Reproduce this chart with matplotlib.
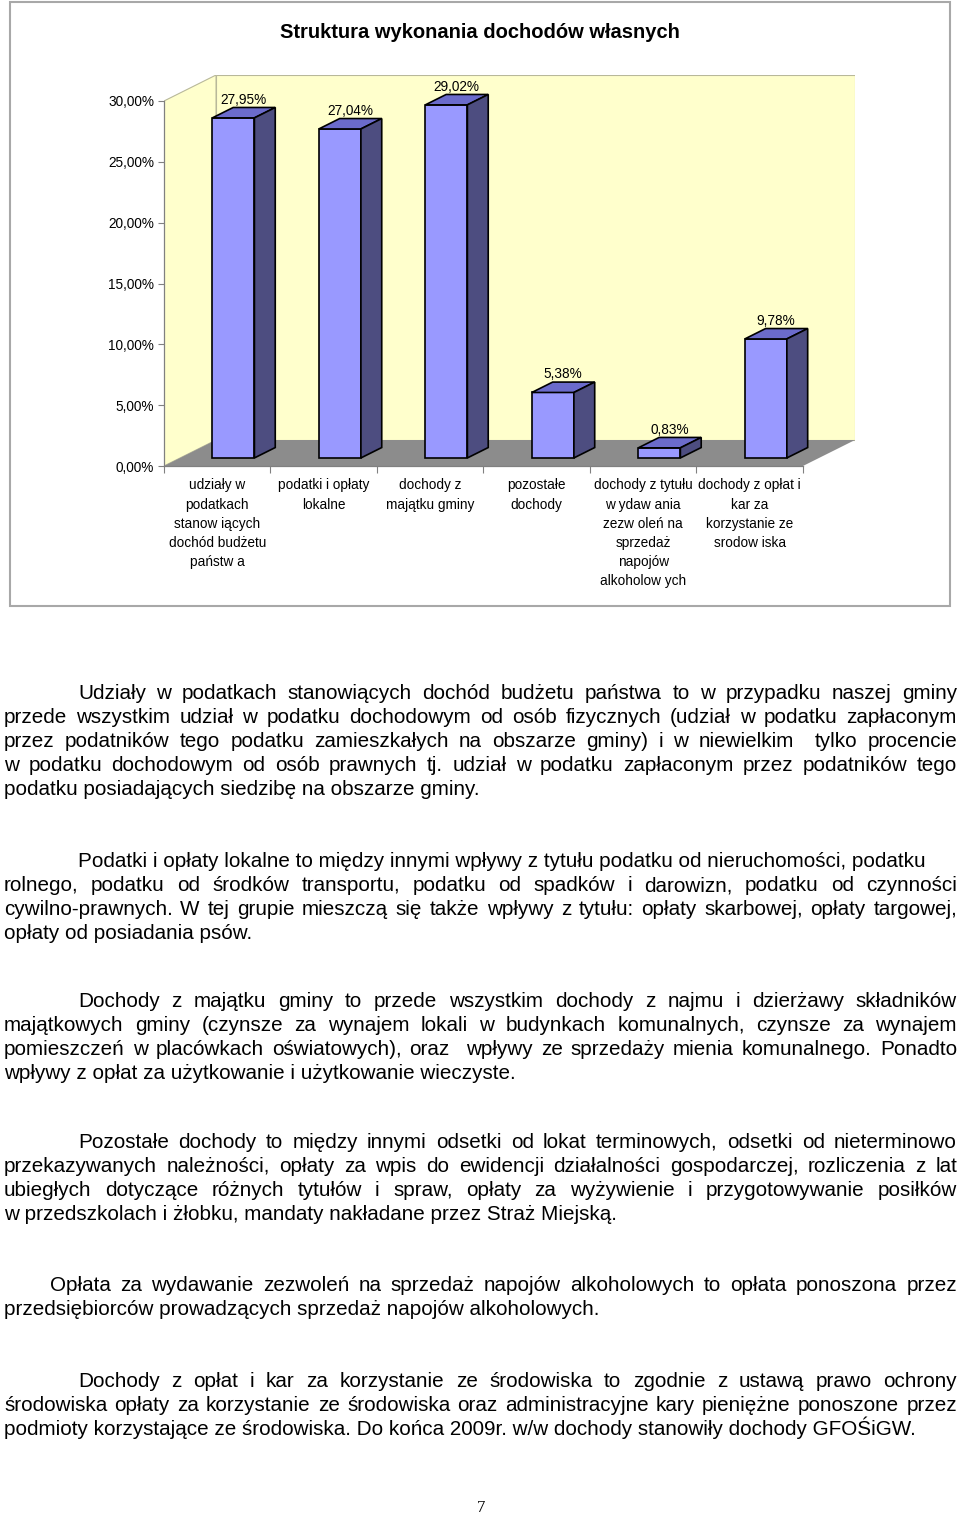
"""
Struktura wykonania dochodów własnych - 3D-style column chart plus page text
"""

import matplotlib
matplotlib.use('Agg')
import matplotlib.pyplot as plt
from matplotlib.patches import Polygon, Rectangle

# ============================================================================
# DATA
# ============================================================================

categories = [
    'udziały w\npodatkach\nstanow iących\ndochód budżetu\npaństw a',
    'podatki i opłaty\nlokalne',
    'dochody z\nmajątku gminy',
    'pozostałe\ndochody',
    'dochody z tytułu\nw ydaw ania\nzezw oleń na\nsprzedaż\nnapojów\nalkoholow ych',
    'dochody z opłat i\nkar za\nkorzystanie ze\nsrodow iska',
]
values = [27.95, 27.04, 29.02, 5.38, 0.83, 9.78]
y_ticks = [0, 5, 10, 15, 20, 25, 30]
title = 'Struktura wykonania dochodów własnych'

# page text: (indent, [lines], justify-flags)
paragraphs = [
    (78, ['Udziały w podatkach stanowiących dochód budżetu państwa to w przypadku naszej gminy',
          'przede wszystkim udział w podatku dochodowym od osób fizycznych (udział w podatku zapłaconym',
          'przez podatników tego podatku zamieszkałych na obszarze gminy) i w niewielkim  tylko procencie',
          'w podatku dochodowym od osób prawnych tj. udział w podatku zapłaconym przez podatników tego',
          'podatku posiadających siedzibę na obszarze gminy.'],
     [True, True, True, True, False]),
    (78, ['Podatki i opłaty lokalne to między innymi wpływy z tytułu podatku od nieruchomości, podatku',
          'rolnego, podatku od środków transportu, podatku od spadków i darowizn, podatku od czynności',
          'cywilno-prawnych. W tej grupie mieszczą się także wpływy z tytułu: opłaty skarbowej, opłaty targowej,',
          'opłaty od posiadania psów.'],
     [False, True, True, False]),
    (78, ['Dochody z majątku gminy to przede wszystkim dochody z najmu i dzierżawy składników',
          'majątkowych gminy (czynsze za wynajem lokali w budynkach komunalnych, czynsze za wynajem',
          'pomieszczeń w placówkach oświatowych), oraz  wpływy ze sprzedaży mienia komunalnego. Ponadto',
          'wpływy z opłat za użytkowanie i użytkowanie wieczyste.'],
     [True, True, True, False]),
    (78, ['Pozostałe dochody to między innymi odsetki od lokat terminowych, odsetki od nieterminowo',
          'przekazywanych należności, opłaty za wpis do ewidencji działalności gospodarczej, rozliczenia z lat',
          'ubiegłych dotyczące różnych tytułów i spraw, opłaty za wyżywienie i przygotowywanie posiłków',
          'w przedszkolach i żłobku, mandaty nakładane przez Straż Miejską.'],
     [True, True, True, False]),
    (50, ['Opłata za wydawanie zezwoleń na sprzedaż napojów alkoholowych to opłata ponoszona przez',
          'przedsiębiorców prowadzących sprzedaż napojów alkoholowych.'],
     [True, False]),
    (78, ['Dochody z opłat i kar za korzystanie ze środowiska to zgodnie z ustawą prawo ochrony',
          'środowiska opłaty za korzystanie ze środowiska oraz administracyjne kary pieniężne ponoszone przez',
          'podmioty korzystające ze środowiska. Do końca 2009r. w/w dochody stanowiły dochody GFOŚiGW.'],
     [True, True, False]),
]
para_baselines = [699, 867, 1007, 1148, 1291, 1387]

# ============================================================================
# STYLE
# ============================================================================

W, H = 960, 1518
FONT = 'Liberation Sans'
FRONT = '#9999FF'
TOP = '#6B6BCB'
SIDE = '#4D4D80'
WALL = '#FFFFCC'
FLOOR = '#8C8C8C'

PX_CAT = (802 - 164) / 6.0       # pixels per category
PX_PCT = (466 - 101) / 30.0      # pixels per percent
DXC = 52 / PX_CAT                # wall depth in category units
DYC = 26 / PX_PCT                # wall depth in percent units
F0, F1 = 0.31, 0.71              # bar depth position (fraction of wall depth)
BAR_W = 42 / PX_CAT

fig = plt.figure(figsize=(W / 100, H / 100), dpi=100)

# page layer in pixel coordinates
page = fig.add_axes([0, 0, 1, 1])
page.set_xlim(0, W)
page.set_ylim(H, 0)
page.axis('off')

page.add_patch(Rectangle((10, 2), 940, 604, fill=False, edgecolor='#A8A8A8', lw=1.5))
page.text(480, 32, title, ha='center', va='center', fontsize=14.5,
          fontweight='bold', family=FONT)

# ============================================================================
# CHART
# ============================================================================

ax = fig.add_axes([164 / W, 1 - 466 / H, (855 - 164) / W, (466 - 75) / H])
ax.set_xlim(0, 6 + DXC)
ax.set_ylim(0, 30 + DYC)
ax.patch.set_visible(False)

# walls and floor
ax.add_patch(Polygon([(0, 0), (DXC, DYC), (DXC, 30 + DYC), (0, 30)],
                     closed=True, facecolor=WALL, edgecolor='#B8B89A', lw=0.8, zorder=0))
ax.add_patch(Rectangle((DXC, DYC), 6, 30, facecolor=WALL, edgecolor='#B8B89A', lw=0.8, zorder=0))
ax.add_patch(Polygon([(0, 0), (6, 0), (6 + DXC, DYC), (DXC, DYC)],
                     closed=True, facecolor=FLOOR, edgecolor='none', zorder=1))

dx = (F1 - F0) * DXC
dy = (F1 - F0) * DYC
for i, v in enumerate(values):
    xc = i + 0.5 + F0 * DXC
    yb = F0 * DYC
    xl, xr = xc - BAR_W / 2, xc + BAR_W / 2
    yt = yb + v
    ax.add_patch(Rectangle((xl, yb), BAR_W, v, facecolor=FRONT, edgecolor='black', lw=1.2, zorder=3))
    ax.add_patch(Polygon([(xl, yt), (xr, yt), (xr + dx, yt + dy), (xl + dx, yt + dy)],
                         closed=True, facecolor=TOP, edgecolor='black', lw=1.2, zorder=3))
    ax.add_patch(Polygon([(xr, yb), (xr + dx, yb + dy), (xr + dx, yt + dy), (xr, yt)],
                         closed=True, facecolor=SIDE, edgecolor='black', lw=1.2, zorder=3))
    ax.text(xc + dx / 2, yt + dy + 0.65, f'{v:.2f}%'.replace('.', ','),
            ha='center', va='center', fontsize=9.8, family=FONT, zorder=4)

for s in ['top', 'right']:
    ax.spines[s].set_visible(False)
ax.spines['left'].set_bounds(0, 30)
ax.spines['bottom'].set_bounds(0, 6)
for s in ['left', 'bottom']:
    ax.spines[s].set_color('#808080')
    ax.spines[s].set_linewidth(0.9)
    ax.spines[s].set_zorder(2)

ax.set_yticks(y_ticks)
ax.set_yticklabels([f'{t:.2f}%'.replace('.', ',') for t in y_ticks], fontsize=9.8, family=FONT)
ax.tick_params(axis='y', length=4, color='#808080', pad=3)

ax.set_xticks(range(7))
ax.set_xticklabels([])
ax.tick_params(axis='x', which='major', length=5, color='#808080')
ax.set_xticks([i + 0.5 for i in range(6)], minor=True)
ax.set_xticklabels(categories, minor=True, fontsize=9.8, family=FONT, linespacing=1.46,
                   va='top')
ax.tick_params(axis='x', which='minor', length=0, pad=9)

# ============================================================================
# PAGE TEXT (justified lines)
# ============================================================================

renderer = fig.canvas.get_renderer()
BODY = dict(fontsize=14.9, family=FONT, va='baseline', ha='left')
LEFT, RIGHT, LINE = 4, 957, 24

for (indent, lines, just), base in zip(paragraphs, para_baselines):
    for j, (line, jf) in enumerate(zip(lines, just)):
        y = base + j * LINE
        x0 = indent if j == 0 else LEFT
        if not jf:
            page.text(x0, y, line, **BODY)
            continue
        words = line.split(' ')
        arts = [page.text(0, y, w, **BODY) for w in words]
        widths = [a.get_window_extent(renderer).width if w else 0 for a, w in zip(arts, words)]
        gap = (RIGHT - x0 - sum(widths)) / (len(words) - 1)
        x = x0
        for a, wd in zip(arts, widths):
            a.set_x(x)
            x += wd + gap

page.text(481, 1508, '7', ha='center', va='center', fontsize=12, family='Liberation Serif')

plt.savefig('out.png', dpi=100)
plt.close()
